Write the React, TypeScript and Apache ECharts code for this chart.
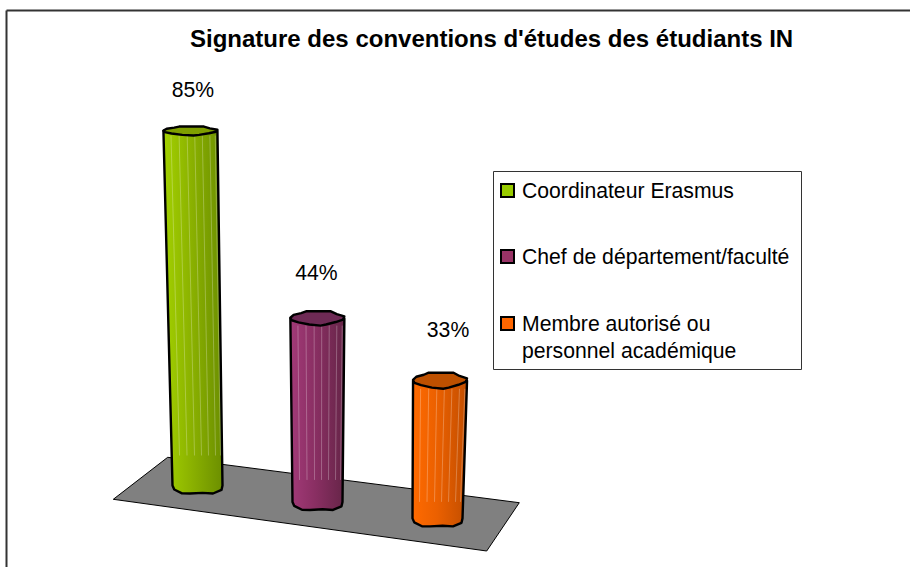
import React, { useEffect, useRef } from "react";
import * as echarts from "echarts";

const titleText = "Signature des conventions d'études des étudiants IN";
const categories = ["Coordinateur Erasmus", "Chef de département/faculté", "Membre autorisé ou\npersonnel académique"];
const values = [85, 44, 33];
const lightColors = ["#A3D100", "#A23A78", "#FF6A00"];
const midColors = ["#8CB300", "#8A2F63", "#EB6000"];
const darkColors = ["#6C8F00", "#662548", "#C24E00"];
const capColors = ["#7F9F00", "#6E2A55", "#BD5000"];
const legendColors = ["#99CC00", "#993366", "#FF6600"];
const FONT = "'Liberation Sans', Arial, sans-serif";

const topCapShape = [[-1,-0.1],[-0.88,-0.5],[-0.6,-0.75],[-0.42,-1],[0.5,-1],[0.72,-0.6],[1,-0.3],[0.95,0.15],[0.68,0.5],[0.32,0.85],[0.12,1],[-0.3,0.85],[-0.7,0.55],[-0.95,0.25]];
const bottomCapShape = [[1,0],[0.96,0.55],[0.62,1],[0.2,0.92],[-0.3,1],[-0.62,0.98],[-0.93,0.5],[-1,0]];
const stripeOffsets = [-0.72, -0.42, -0.12, 0.16, 0.44, 0.72, 0.92];
const labelShiftX = [2.5, -1, 8];
const labelShiftY = [42, 46, 51];

function renderBar(params: any, api: any) {
  const i = api.value(0);
  const v = api.value(1);
  const base = api.coord([i, 0]);
  const tip = api.coord([i, v]);
  const h = base[1] - tip[1];
  const slope = 0.137;
  const xb = base[0];
  const yb = base[1] + (xb - 318) * slope;
  const xt = xb + (xb - 322) * 0.00016 * h;
  const yt = yb - h;
  const wb = 25;
  const wt = 27;
  const capH = 4.5 + (yt - 132) * 0.0142;
  const botH = 8;
  const side: number[][] = [[xt - wt, yt], [xt + wt, yt]];
  bottomCapShape.forEach(([u, w]) => side.push([xb + u * wb, yb + w * botH]));
  const cap = topCapShape.map(([u, w]) => [xt + u * wt, yt + w * capH]);
  const fill = new echarts.graphic.LinearGradient(0, 0, 1, 0, [
    { offset: 0, color: lightColors[i] },
    { offset: 0.45, color: midColors[i] },
    { offset: 1, color: darkColors[i] },
  ]);
  const stripes = stripeOffsets.map((s) => ({
    type: "line",
    shape: { x1: xt + s * wt, y1: yt + capH, x2: xb + s * wb, y2: yb - Math.min(h * 0.12, 30) },
    style: { stroke: "rgba(255,255,255,0.26)", lineWidth: 1 },
    silent: true,
  }));
  return {
    type: "group",
    children: [
      { type: "polygon", shape: { points: side }, style: { fill, stroke: "#000", lineWidth: 2.4, lineJoin: "round" } },
      ...stripes,
      { type: "polygon", shape: { points: cap }, style: { fill: capColors[i], stroke: "#000", lineWidth: 2.4, lineJoin: "round" } },
      {
        type: "text",
        style: { text: v + "%", x: xt + labelShiftX[i], y: yt - labelShiftY[i], fill: "#000", font: "21.2px " + FONT, align: "center", verticalAlign: "middle" },
      },
    ],
  };
}

const legendRows = [190, 256, 323];

export default function App() {
  const ref = useRef<HTMLDivElement>(null);
  useEffect(() => {
    const chart = echarts.init(ref.current!, undefined, { renderer: "svg" });
    const legendGraphics: any[] = [];
    categories.forEach((c, i) => {
      legendGraphics.push({
        type: "rect",
        shape: { x: 501, y: legendRows[i] - 6, width: 13, height: 13 },
        style: { fill: legendColors[i], stroke: "#000", lineWidth: 2 },
        z: 3,
      });
      legendGraphics.push({
        type: "text",
        style: { text: c, x: 522, y: legendRows[i] - 13.5, fill: "#000", font: "21.2px " + FONT, lineHeight: 27, verticalAlign: "top" },
        z: 3,
      });
    });
    chart.setOption({
      animation: false,
      backgroundColor: "#fff",
      title: {
        text: titleText,
        left: 190,
        top: 26,
        padding: 0,
        textStyle: { fontFamily: FONT, fontWeight: "bold", fontSize: 24, color: "#000" },
      },
      grid: { left: 137.5, width: 360, top: 85, height: 417 },
      xAxis: { type: "category", data: categories, show: false },
      yAxis: { type: "value", min: 0, max: 100, show: false },
      graphic: [
        { type: "line", shape: { x1: 6.5, y1: 10.5, x2: 910, y2: 10.5 }, style: { stroke: "#333", lineWidth: 2 }, z: 0 },
        { type: "line", shape: { x1: 6.5, y1: 10.5, x2: 6.5, y2: 567 }, style: { stroke: "#333", lineWidth: 2 }, z: 0 },
        { type: "polygon", shape: { points: [[167.7, 457.3], [519.3, 502.7], [486.7, 551], [113.3, 499.3]] }, style: { fill: "#808080", stroke: "#000", lineWidth: 1 }, z: 0 },
        { type: "rect", shape: { x: 493.5, y: 171.5, width: 308, height: 198 }, style: { fill: "#fff", stroke: "#333", lineWidth: 1 }, z: 2 },
        ...legendGraphics,
      ],
      series: [
        {
          type: "custom",
          renderItem: renderBar,
          clip: false,
          z: 1,
          encode: { x: 0, y: 1 },
          data: values.map((v, i) => [i, v]),
        },
      ],
    });
    return () => chart.dispose();
  }, []);
  return <div ref={ref} style={{ position: "fixed", left: 0, top: 0, width: 910, height: 567 }} />;
}
